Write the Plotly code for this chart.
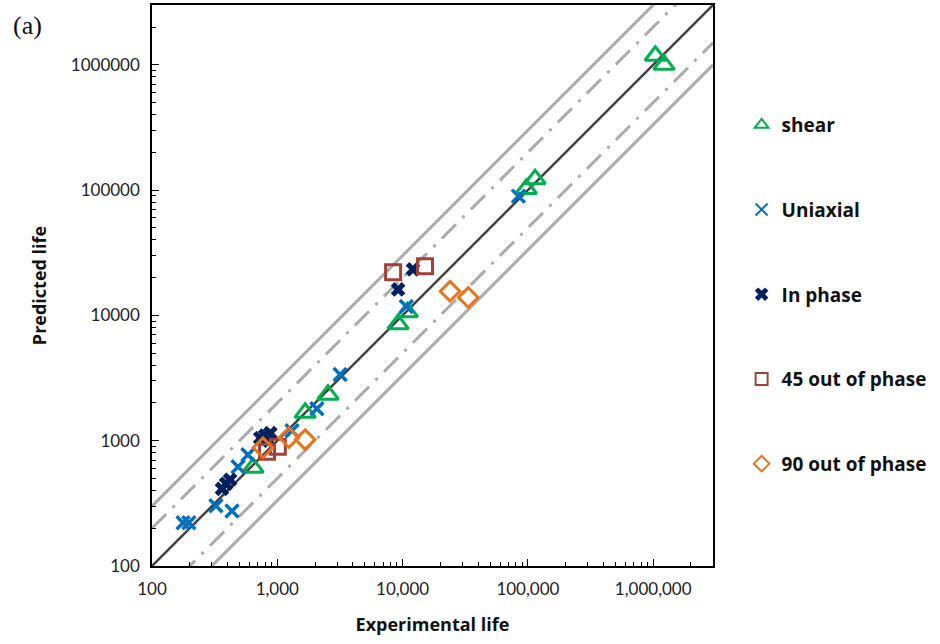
import math
import plotly.graph_objects as go

# ---- data ----
shear_x = [1.04e6, 1.22e6, 9.7e4, 1.14e5, 9.2e3, 1.09e4, 2.54e3, 1.67e3, 640]
shear_y = [1.18e6, 1.0e6, 1.02e5, 1.22e5, 8.5e3, 1.06e4, 2.33e3, 1.67e3, 608]

uni_x = [8.4e4, 1.07e4, 3.17e3, 2.07e3, 1.31e3, 583, 486, 324, 435, 177, 197]
uni_y = [8.95e4, 1.18e4, 3.37e3, 1.8e3, 1.2e3, 773, 620, 302, 275, 221, 221]

inph_x = [1.21e4, 9.2e3, 730, 800, 880, 860, 362, 390, 420]
inph_y = [2.33e4, 1.61e4, 1050, 1100, 1150, 1000, 413, 453, 488]

p45_x = [8.4e3, 1.51e4, 828, 1010]
p45_y = [2.21e4, 2.47e4, 817, 895]

p90_x = [2.39e4, 3.34e4, 769, 1240, 1670]
p90_y = [1.56e4, 1.39e4, 879, 1060, 1020]

axis_range = [100, 3e6]
band_factors = [2, 3]

x_tickvals = [100, 1000, 10000, 100000, 1000000]
x_ticktext = ["100", "1,000", "10,000", "100,000", "1,000,000"]
y_ticktext = ["100", "1000", "10000", "100000", "1000000"]

TXT = "Open Sans, Noto Sans, sans-serif"
TICK = "Lato, Noto Sans, sans-serif"

fig = go.Figure()

# 1:1 line
fig.add_trace(go.Scatter(x=axis_range, y=axis_range, mode="lines",
                         line=dict(color="#404040", width=2.5), showlegend=False, hoverinfo="skip"))
# factor bands
for f in band_factors:
    dash = "20px,9px,3px,9px" if f == 2 else "solid"
    for k in (f, 1.0 / f):
        fig.add_trace(go.Scatter(x=axis_range, y=[v * k for v in axis_range], mode="lines",
                                 line=dict(color="#ABABAB", width=3, dash=dash),
                                 showlegend=False, hoverinfo="skip"))


def add(x, y, name, symbol, color, size, lw, group):
    fig.add_trace(go.Scatter(x=x, y=y, mode="markers", name=name, legendgroup=group,
                             marker=dict(symbol=symbol, size=size, color=color,
                                         line=dict(color=color, width=lw))))


add(shear_x, shear_y, "shear", "triangle-up-open", "#00B050", 18, 3, "a")
add(uni_x, uni_y, "Uniaxial", "x-thin", "#0070C0", 13, 3.5, "b")
add(inph_x, inph_y, "In phase", "x", "#002060", 13, 0, "c")
add(p45_x, p45_y, "45 out of phase", "square-open", "#A0403A", 15, 3, "d")
add(p90_x, p90_y, "90 out of phase", "diamond-open", "#E8731A", 15, 3, "e")

lr = [math.log10(v) for v in axis_range]

common = dict(type="log", range=lr, tickvals=x_tickvals,
              ticks="inside", ticklen=7, tickwidth=1, tickcolor="black",
              showline=True, linecolor="black", linewidth=1.5, mirror=True,
              showgrid=False, zeroline=False, automargin=False,
              ticklabelstandoff=7,
              minor=dict(ticks="inside", ticklen=4, tickcolor="black", showgrid=False, dtick="D1"),
              tickfont=dict(family=TICK, size=17, color="#222"))

fig.update_xaxes(**common, ticktext=x_ticktext,
                 title=dict(text="<b>Experimental life</b>",
                            font=dict(family=TXT, size=18, color="#111"), standoff=20))
fig.update_yaxes(**common, ticktext=y_ticktext,
                 title=dict(text="<b>Predicted life</b>",
                            font=dict(family=TXT, size=18, color="#111"), standoff=20))

fig.add_annotation(text="(a)", xref="paper", yref="paper", x=-0.252, y=0.993,
                   xanchor="left", yanchor="top", showarrow=False,
                   font=dict(family="Liberation Serif, DejaVu Serif, serif", size=26, color="#111"))

fig.update_layout(
    width=940, height=644,
    margin=dict(l=152, r=227, t=5, b=78),
    plot_bgcolor="white", paper_bgcolor="white",
    legend=dict(x=1.051, y=0.82, xanchor="left", yanchor="top",
                font=dict(family=TXT, size=19, color="#111", weight="bold"),
                tracegroupgap=57, itemsizing="constant", itemwidth=30,
                bgcolor="rgba(0,0,0,0)"),
)

fig.write_html("out.html", config={"displayModeBar": False},
               post_script="document.body.style.margin='0px';")
